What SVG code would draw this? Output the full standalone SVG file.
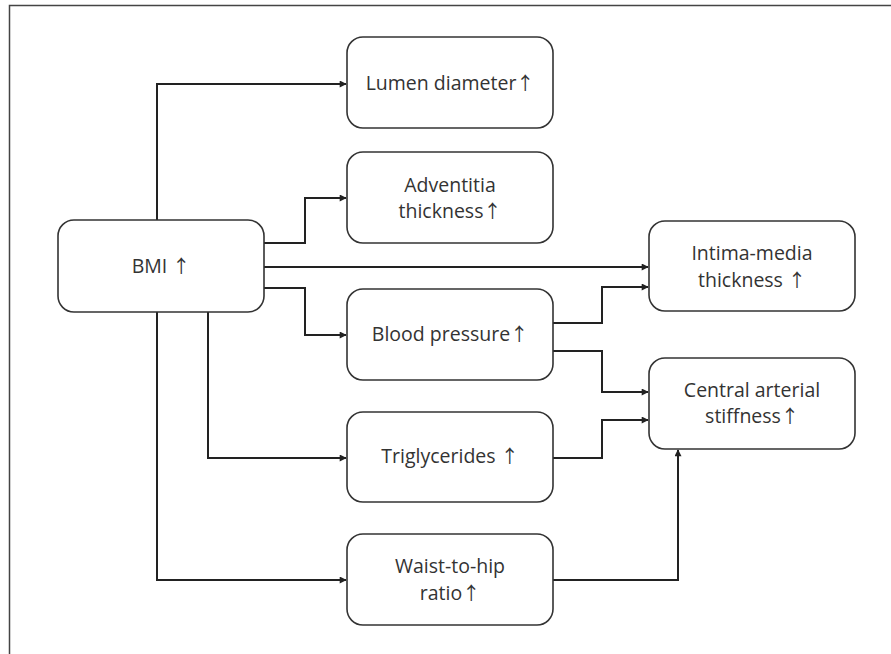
<svg xmlns="http://www.w3.org/2000/svg" width="891" height="654" viewBox="0 0 891 654">
<style>
.box{fill:#fff;stroke:#333;stroke-width:1.6}
.t{font-family:"Open Sans","Noto Sans","DejaVu Sans",sans-serif;font-size:19.5px;fill:#333;text-anchor:middle}
.a{font-family:"Noto Sans CJK SC","DejaVu Sans",sans-serif;font-size:18px;font-weight:400}
.c{fill:none;stroke:#222;stroke-width:2}
</style>
<defs>
<marker id="ah" viewBox="0 0 10 10" refX="9" refY="5" markerWidth="9" markerHeight="7" markerUnits="userSpaceOnUse" orient="auto">
<path d="M0,0 L10,5 L0,10 z" fill="#222"/>
</marker>
</defs>
<rect width="891" height="654" fill="#fff"/>
<path d="M9.5,654 V5.5 H891" fill="none" stroke="#444" stroke-width="1.5"/>
<g id="connectors">
<path class="c" d="M157,220 V84 H346" marker-end="url(#ah)"/>
<path class="c" d="M264,243 H305 V198 H346" marker-end="url(#ah)"/>
<path class="c" d="M264,267 H648" marker-end="url(#ah)"/>
<path class="c" d="M264,288 H305 V335 H346" marker-end="url(#ah)"/>
<path class="c" d="M208,312 V458 H346" marker-end="url(#ah)"/>
<path class="c" d="M157,312 V580 H346" marker-end="url(#ah)"/>
<path class="c" d="M553,323 H602 V287 H648" marker-end="url(#ah)"/>
<path class="c" d="M553,351 H602 V392 H648" marker-end="url(#ah)"/>
<path class="c" d="M553,458 H602 V420 H648" marker-end="url(#ah)"/>
<path class="c" d="M553,580 H678 V450" marker-end="url(#ah)"/>
</g>
<g id="bmi"><rect class="box" x="58" y="220" width="206" height="92" rx="16"/><text class="t" x="161" y="273">BMI <tspan class="a">↑</tspan></text></g>
<g id="lumen"><rect class="box" x="347" y="37" width="206" height="91" rx="16"/><text class="t" x="450" y="90">Lumen diameter<tspan class="a">↑</tspan></text></g>
<g id="adventitia"><rect class="box" x="347" y="152" width="206" height="91" rx="16"/><text class="t" x="450" y="192">Adventitia</text><text class="t" x="450" y="218">thickness<tspan class="a">↑</tspan></text></g>
<g id="bp"><rect class="box" x="347" y="289" width="206" height="91" rx="16"/><text class="t" x="450" y="341">Blood pressure<tspan class="a">↑</tspan></text></g>
<g id="tg"><rect class="box" x="347" y="412" width="206" height="90" rx="16"/><text class="t" x="450" y="463">Triglycerides <tspan class="a">↑</tspan></text></g>
<g id="whr"><rect class="box" x="347" y="534" width="206" height="91" rx="16"/><text class="t" x="450" y="573">Waist-to-hip</text><text class="t" x="450" y="600">ratio<tspan class="a">↑</tspan></text></g>
<g id="imt"><rect class="box" x="649" y="221" width="206" height="90" rx="16"/><text class="t" x="752" y="260">Intima-media</text><text class="t" x="752" y="287">thickness <tspan class="a">↑</tspan></text></g>
<g id="cas"><rect class="box" x="649" y="358" width="206" height="91" rx="16"/><text class="t" x="752" y="397">Central arterial</text><text class="t" x="752" y="423">stiffness<tspan class="a">↑</tspan></text></g>
</svg>
